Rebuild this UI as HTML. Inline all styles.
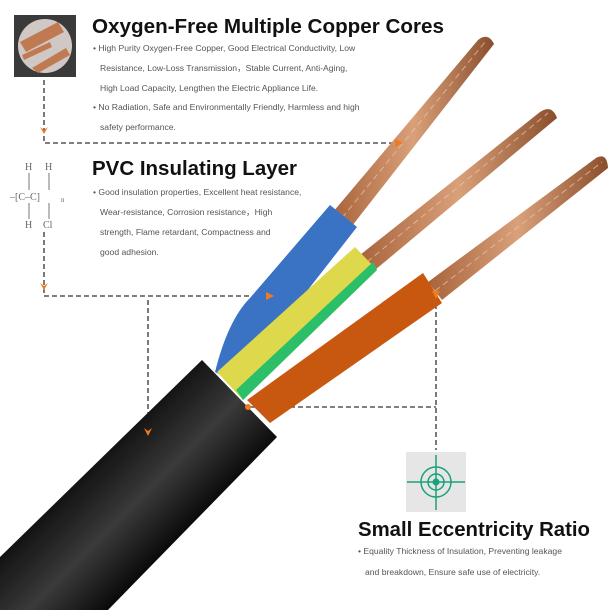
<!DOCTYPE html>
<html><head><meta charset="utf-8"><style>
body{margin:0;background:#fff;}
svg{display:block}
.t{font-family:"Liberation Sans",sans-serif;font-size:20px;fill:#111;}
.b{font-family:"Liberation Sans",sans-serif;font-size:8.6px;fill:#555;}
</style></head><body>
<svg width="610" height="610" viewBox="0 0 610 610" xmlns="http://www.w3.org/2000/svg">
<defs>
<linearGradient id="cu" x1="0" y1="0" x2="1" y2="0"><stop offset="0" stop-color="#a8643c"/><stop offset=".5" stop-color="#d9a07a"/><stop offset="1" stop-color="#8a4e2c"/></linearGradient>
<linearGradient id="blk" gradientUnits="userSpaceOnUse" x1="100" y1="440" x2="190" y2="530"><stop offset="0" stop-color="#0a0a0a"/><stop offset=".55" stop-color="#3a3a3a"/><stop offset="1" stop-color="#080808"/></linearGradient>
</defs>
<!-- icon copper -->
<rect x="14" y="15" width="62" height="62" fill="#3a3a3a"/>
<circle cx="45" cy="46" r="27" fill="#d0c8c4"/>
<path d="M20 42 L58 22 L64 32 L26 52Z M32 68 L66 48 L70 55 L38 73Z M22 55 L50 42 L52 47 L24 60Z" fill="#c07a52"/>
<!-- texts -->
<text class="t" x="92" y="33" font-weight="bold" textLength="352" lengthAdjust="spacingAndGlyphs">Oxygen-Free Multiple Copper Cores</text>
<text class="b" x="93" y="51">• High Purity Oxygen-Free Copper, Good Electrical Conductivity, Low</text>
<text class="b" x="100" y="71">Resistance, Low-Loss Transmission，Stable Current, Anti-Aging,</text>
<text class="b" x="100" y="91">High Load Capacity, Lengthen the Electric Appliance Life.</text>
<text class="b" x="93" y="110">• No Radiation, Safe and Environmentally Friendly, Harmless and high</text>
<text class="b" x="100" y="130">safety performance.</text>
<text class="t" x="92" y="175" font-weight="bold" textLength="205" lengthAdjust="spacingAndGlyphs">PVC Insulating Layer</text>
<text class="b" x="93" y="195">• Good insulation properties, Excellent heat resistance,</text>
<text class="b" x="100" y="215">Wear-resistance, Corrosion resistance，High</text>
<text class="b" x="100" y="235">strength, Flame retardant, Compactness and</text>
<text class="b" x="100" y="255">good adhesion.</text>
<text class="t" x="358" y="536" font-weight="bold" textLength="232" lengthAdjust="spacingAndGlyphs">Small Eccentricity Ratio</text>
<text class="b" x="358" y="554">• Equality Thickness of Insulation, Preventing leakage</text>
<text class="b" x="365" y="575">and breakdown, Ensure safe use of electricity.</text>
<!-- PVC formula -->
<g font-family="Liberation Serif,serif" font-size="10" fill="#666">
<text x="25" y="170">H</text><text x="45" y="170">H</text>
<text x="10" y="200">–[C–C]</text><text x="61" y="202" font-size="7">n</text>
<text x="25" y="228">H</text><text x="43" y="228">Cl</text>
</g>
<line x1="29" y1="173" x2="29" y2="190" stroke="#777"/><line x1="49" y1="173" x2="49" y2="190" stroke="#777"/>
<line x1="29" y1="203" x2="29" y2="219" stroke="#777"/><line x1="49" y1="203" x2="49" y2="219" stroke="#777"/>
<!-- dashed lines -->
<g stroke="#333" stroke-width="1.3" stroke-dasharray="5,3" fill="none">
<path d="M44 80 V143 H400"/>
<path d="M44 232 V296 H263"/>
<path d="M148 300 V430"/>
<path d="M436 296 V450"/>
<path d="M250 407 H436"/>
</g>
<!-- copper strands -->
<path d="M333 212 L478 40 Q488 32 494 44 L352 226Z" fill="url(#cu)"/>
<path d="M360 255 L540 112 Q552 104 557 118 L375 270Z" fill="url(#cu)"/>
<path d="M428 282 L596 158 Q607 152 608 168 L442 300Z" fill="url(#cu)"/>
<g stroke="#f0c8a8" stroke-width="1" stroke-dasharray="6,4" opacity=".7">
<line x1="342" y1="218" x2="485" y2="42"/>
<line x1="367" y1="262" x2="548" y2="113"/>
<line x1="435" y1="291" x2="602" y2="162"/>
</g>
<!-- wires -->
<path d="M215 372 Q228 320 250 298 L330 205 L357 227 L300 300 L230 380Z" fill="#3a72c4"/>
<path d="M217 372 L355 247 L377 270 L243 400Z" fill="#ddd84c"/>
<path d="M236 390 L373 262 L377 270 L243 400Z" fill="#2cbf6a"/>
<path d="M247 400 L423 273 L442 303 L270 423Z" fill="#c85810"/>
<!-- black jacket -->
<path d="M202 360 L277 437 L108 610 L0 610 L0 557Z" fill="url(#blk)"/>
<g fill="#f07a20">
<path d="M40 127 L44 134 L48 127 L44 130Z"/><path d="M40 283 L44 290 L48 283 L44 286Z"/>
<path d="M144 428 L148 436 L152 428 L148 431Z"/>
<path d="M395 139 L403 143 L395 147Z"/><path d="M266 292 L274 296 L266 300Z"/>
<path d="M432 291 L436 299 L440 291Z"/><circle cx="248" cy="407" r="3"/>
</g>
<!-- target -->
<rect x="406" y="452" width="60" height="60" fill="#e6e6e6"/>
<g stroke="#1aa07a" stroke-width="1.5" fill="none">
<line x1="436" y1="455" x2="436" y2="510"/><line x1="407" y1="482" x2="465" y2="482"/>
<circle cx="436" cy="482" r="15"/><circle cx="436" cy="482" r="8"/>
</g>
<circle cx="436" cy="482" r="3.5" fill="#1aa07a"/>
</svg>
</body></html>
